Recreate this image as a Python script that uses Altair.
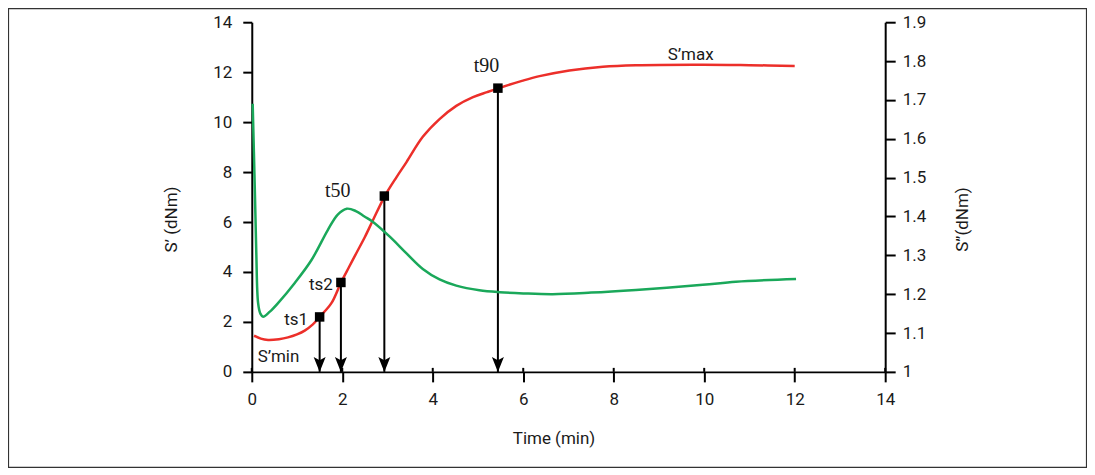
import altair as alt
import pandas as pd

# ---- data ----
red_t = [0.05, 0.2, 0.36, 0.6, 0.8, 1.0, 1.17, 1.35, 1.5, 1.76, 1.97, 2.15, 2.31, 2.5,
         2.68, 2.94, 3.2, 3.42, 3.78, 4.15, 4.52, 4.89, 5.2, 5.46, 5.99, 6.36, 7.02,
         7.76, 8.49, 9.97, 11.0, 12.0]
red_s = [1.45, 1.33, 1.28, 1.31, 1.38, 1.5, 1.65, 1.9, 2.2, 2.75, 3.57, 4.2, 4.75, 5.4,
         6.08, 7.04, 7.8, 8.4, 9.41, 10.12, 10.65, 11.0, 11.2, 11.36, 11.66, 11.84,
         12.07, 12.22, 12.28, 12.3, 12.28, 12.25]

green_t = [0.02, 0.066, 0.10, 0.14, 0.19, 0.25, 0.4, 0.58, 0.95, 1.32, 1.68, 1.9, 2.1,
           2.3, 2.49, 2.68, 3.05, 3.42, 3.78, 4.15, 4.52, 5.03, 5.48, 6.0, 6.65, 7.5,
           8.49, 9.97, 10.7, 12.03]
green_s = [1.69, 1.476, 1.306, 1.177, 1.150, 1.142, 1.155, 1.177, 1.229, 1.288, 1.365,
           1.405, 1.42, 1.414, 1.40, 1.386, 1.348, 1.305, 1.265, 1.238, 1.222, 1.210,
           1.205, 1.202, 1.20, 1.204, 1.211, 1.224, 1.232, 1.239]

point_names = ["ts1", "ts2", "t50", "t90"]
point_t = [1.50, 1.97, 2.93, 5.44]
point_s = [2.2, 3.58, 7.04, 11.36]

label_text = ["ts1", "ts2", "t50", "t90", "S\u2019min", "S\u2019max"]
label_t = [1.243, 1.79, 1.90, 5.19, 0.13, 9.70]
label_s = [1.88, 3.28, 7.0, 12.0, 0.41, 12.48]
label_group = ["sans_right", "sans_right", "serif", "serif", "sans_left", "sans_center"]

x_ticks = [0, 2, 4, 6, 8, 10, 12, 14]
left_ticks = [0, 2, 4, 6, 8, 10, 12, 14]
right_ticks = [1.0, 1.1, 1.2, 1.3, 1.4, 1.5, 1.6, 1.7, 1.8, 1.9]

# ---- tables ----
red_df = pd.DataFrame({"t": red_t, "s": red_s})
green_df = pd.DataFrame({"t": green_t, "s2": green_s})
pts_df = pd.DataFrame({"name": point_names, "t": point_t, "s": point_s})
lab_df = pd.DataFrame({"text": label_text, "t": label_t, "s": label_s, "g": label_group})
xt_df = pd.DataFrame({"t": x_ticks})
frame_df = pd.DataFrame({"a": [0]})

FONT = "Roboto"
SERIF = "Liberation Serif"
INK = "#1a1a1a"
RED = "#ec2f2a"
GREEN = "#1aa85a"

W, H = 634, 350

xs = alt.Scale(domain=[0, 14], nice=False, zero=False)
ys = alt.Scale(domain=[0, 14], nice=False)
ys2 = alt.Scale(domain=[1.0, 1.9], nice=False, zero=False)

x_axis = alt.Axis(values=x_ticks, title="Time (min)", titleX=302, titleY=72,
                  titleBaseline="alphabetic", tickSize=10, labelPadding=10,
                  labelFlush=False)
y_axis = alt.Axis(values=left_ticks, title="S\u2019 (dNm)", titleX=-80, titleY=197,
                  titleAngle=270, titleAlign="center", titleBaseline="middle",
                  tickSize=9, labelPadding=11, labelFlush=False)
y2_axis = alt.Axis(values=right_ticks, title="S\u201d(dNm)", orient="right",
                   format="~g", titleX=77, titleY=197, titleAngle=270,
                   titleAlign="center", titleBaseline="middle",
                   tickSize=10, labelPadding=7, labelFlush=False)

X = alt.X("t:Q", scale=xs, axis=x_axis)
Y = alt.Y("s:Q", scale=ys, axis=y_axis)

frame = alt.Chart(frame_df).mark_rect(filled=False, stroke="#333", strokeWidth=1.2,
                                      clip=False).encode(
    x=alt.value(-243.5), x2=alt.value(835.5), y=alt.value(-13.5), y2=alt.value(445.5))

red = alt.Chart(red_df).mark_line(color=RED, strokeWidth=2.5,
                                  interpolate="catmull-rom").encode(x=X, y=Y)

tick_up = alt.Chart(xt_df).mark_rule(color="black", strokeWidth=2).encode(
    x=X, y=alt.value(H - 4), y2=alt.value(H))

arrows = alt.Chart(pts_df).mark_rule(color="black", strokeWidth=2).encode(
    x=X, y=Y, y2=alt.datum(0))

heads = alt.Chart(pts_df).transform_calculate(zero="0").mark_point(
    shape="M0,0L-0.8,-2L0,-1.55L0.8,-2Z", filled=True, size=225,
    color="black", opacity=1).encode(
    x=X, y=alt.Y("zero:Q", scale=ys, axis=y_axis))

squares = alt.Chart(pts_df).mark_square(size=90, color="black", opacity=1).encode(
    x=X, y=Y)


def labels(group, font, size, align):
    return alt.Chart(lab_df).transform_filter(
        alt.datum.g == group).mark_text(
        font=font, fontSize=size, color=INK, align=align, baseline="alphabetic").encode(
        x=X, y=Y, text="text:N")


lab1 = labels("sans_right", FONT, 17, "right")
lab2 = labels("serif", SERIF, 20, "center")
lab3 = labels("sans_left", FONT, 17, "left")
lab4 = labels("sans_center", FONT, 17, "center")

green = alt.Chart(green_df).mark_line(color=GREEN, strokeWidth=2.5,
                                      interpolate="catmull-rom").encode(
    x=X, y=alt.Y("s2:Q", scale=ys2, axis=y2_axis))

base = alt.layer(frame, red, tick_up, arrows, heads, squares, lab1, lab2, lab3, lab4)

chart = alt.layer(base, green).resolve_scale(y="independent").properties(
    width=W, height=H,
    padding={"left": 244, "top": 14, "right": 202, "bottom": 96},
    autosize=alt.AutoSizeParams(type="none"),
    background="white",
).configure_view(stroke=None).configure_axis(
    grid=False, domainColor="black", domainWidth=2, tickColor="black", tickWidth=2,
    labelFont=FONT, labelFontSize=17, labelColor=INK,
    titleFont=FONT, titleFontSize=17, titleFontWeight="normal", titleColor=INK,
)

chart.save("out.html", embed_options={"renderer": "svg", "actions": False})
